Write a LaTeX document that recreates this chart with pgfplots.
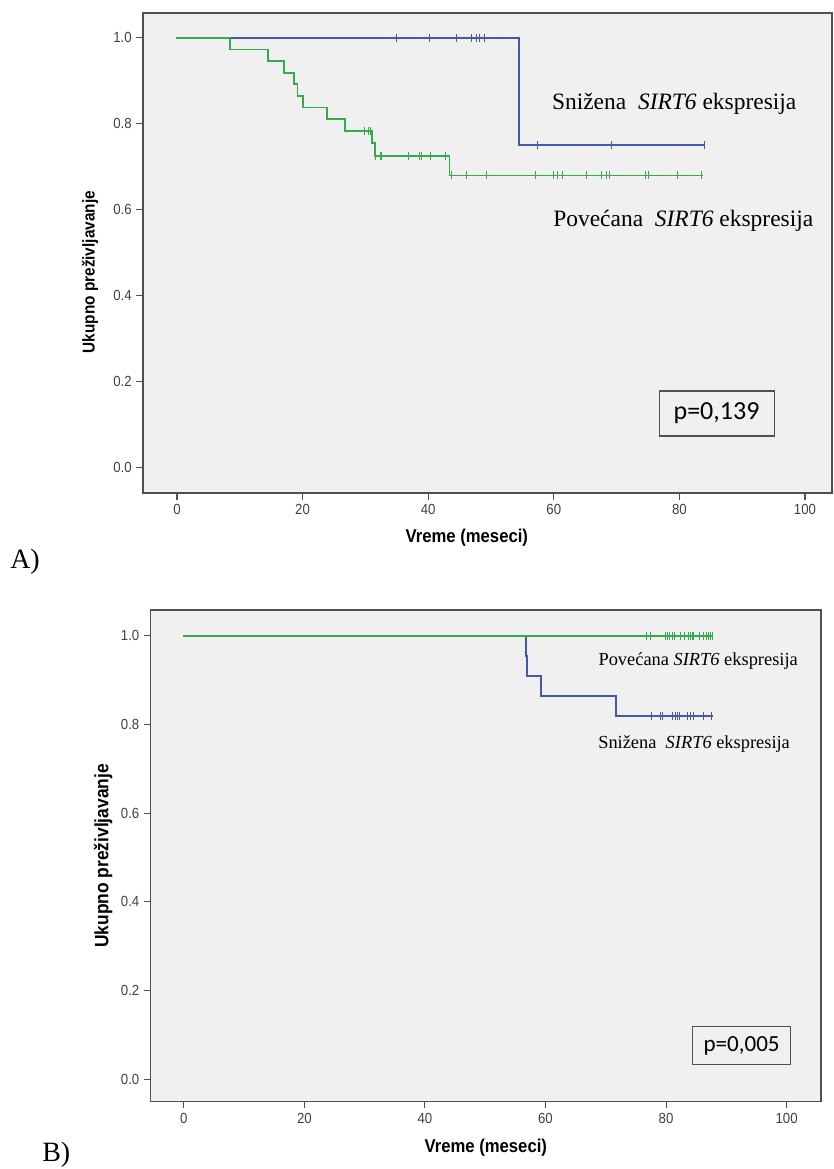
\documentclass[border=0pt]{standalone}
\usepackage{fontspec}
\setmainfont{Liberation Serif}
\newfontfamily\axfont[FakeStretch=0.9]{Liberation Sans}
\newfontfamily\pfont{Carlito}
\usepackage{pgfplots}
\pgfplotsset{compat=1.18}
\definecolor{kmblue}{RGB}{70,88,166}
\definecolor{kmgreen}{RGB}{52,172,78}
\definecolor{bgc}{RGB}{240,240,240}
\definecolor{axc}{RGB}{80,80,80}
\pgfplotsset{kmaxis/.style={
  scale only axis,
  axis background/.style={fill=bgc},
  axis line style={axc, line width=1.1pt},
  xtick pos=bottom, ytick pos=left, tick align=outside,
  major tick length=5pt, tick style={axc, line width=0.8pt},
  xtick={0,20,40,60,80,100},
  ytick={0,0.2,0.4,0.6,0.8,1},
  yticklabels={0.0,0.2,0.4,0.6,0.8,1.0},
  /pgf/number format/assume math mode=true,
  ticklabel style={font=\axfont\fontsize{11}{12}\selectfont, text=black!75},
  xlabel={Vreme (meseci)},
  ylabel={Ukupno preživljavanje},
  clip=false,
  km line/.style={line width=1.4pt, const plot, line cap=rect},
  km cens/.style={only marks, mark=|, mark size=3pt, mark options={line width=1.1pt}},
}}
\begin{document}
\begin{tikzpicture}
\useasboundingbox (0,0) rectangle (624.75pt,-876.75pt);
% ---------- Panel A ----------
\begin{axis}[kmaxis,
  at={(107.25pt,-9.75pt)}, anchor=north west,
  width=516.75pt, height=360pt,
  xmin=-5.41, xmax=104.3, ymin=-0.059, ymax=1.058,
  xlabel style={font=\axfont\bfseries\fontsize{13.9}{15}\selectfont, at={(axis description cs:0.47,-0.093)}, anchor=center},
  ylabel style={font=\axfont\bfseries\fontsize{12.8}{14}\selectfont, at={(axis description cs:-0.0769,0.46)}, anchor=center},
]
\addplot[kmblue, km line] coordinates {(0,1)(54.4,0.75)(83.9,0.75)};
\addplot[kmblue, km cens, mark options={kmblue}] coordinates {
(34.9,1)(40.2,1)(44.5,1)(46.9,1)(47.6,1)(48.2,1)(48.9,1)
(57.3,0.75)(69.2,0.75)(83.9,0.75)};
\addplot[kmgreen, km line] coordinates {
(0,1)(8.5,0.973)(14.5,0.946)(17.1,0.919)(18.6,0.892)(19.2,0.865)(20.0,0.838)
(23.9,0.811)(26.8,0.784)(31.0,0.755)(31.5,0.726)(43.4,0.680)(83.6,0.680)};
\addplot[kmgreen, km cens, mark options={kmgreen}] coordinates {
(29.9,0.784)(30.5,0.784)(30.8,0.784)
(31.6,0.726)(32.3,0.726)(32.6,0.726)(36.8,0.726)(38.6,0.726)(38.9,0.726)(40.4,0.726)(42.7,0.726)
(43.7,0.68)(46.1,0.68)(49.3,0.68)(57.0,0.68)(59.9,0.68)(60.6,0.68)(61.3,0.68)(65.2,0.68)
(67.6,0.68)(68.3,0.68)(68.9,0.68)(74.6,0.68)(75.0,0.68)(79.6,0.68)(83.5,0.68)};
\end{axis}
% ---------- Panel B ----------
\begin{axis}[kmaxis,
  at={(113.0pt,-457.5pt)}, anchor=north west,
  width=502.7pt, height=368.8pt,
  xmin=-5.5, xmax=105.7, ymin=-0.051, ymax=1.058,
  xlabel style={font=\axfont\bfseries\fontsize{13.9}{15}\selectfont, at={(axis description cs:0.5,-0.094)}, anchor=center},
  ylabel style={font=\axfont\bfseries\fontsize{14.5}{16}\selectfont, at={(axis description cs:-0.0707,0.5)}, anchor=center},
]
\addplot[kmblue, km line] coordinates {
(0,1)(56.7,0.955)(57.0,0.909)(59.3,0.864)(71.7,0.818)(87.6,0.818)};
\addplot[kmblue, km cens, mark options={kmblue}] coordinates {
(77.5,0.818)(79.0,0.818)(79.4,0.818)(81.0,0.818)(81.5,0.818)(81.9,0.818)(82.2,0.818)
(83.6,0.818)(84.0,0.818)(84.6,0.818)(86.2,0.818)(87.5,0.818)};
\addplot[kmgreen, km line] coordinates {(0,1)(87.6,1)};
\addplot[kmgreen, km cens, mark options={kmgreen}] coordinates {
(76.8,1)(77.4,1)(79.8,1)(80.2,1)(80.6,1)(81.0,1)(81.3,1)(82.4,1)(83.0,1)(83.7,1)
(84.0,1)(84.3,1)(84.6,1)(85.5,1)(86.1,1)(86.7,1)(87.0,1)(87.3,1)(87.6,1)};
\end{axis}
% ---------- annotations ----------
\node[anchor=base west, inner sep=0pt, font=\fontsize{17.6}{20}\selectfont] at (413.8pt,-82pt) {Snižena\ \ \textit{SIRT6} ekspresija};
\node[anchor=base west, inner sep=0pt, font=\fontsize{17.6}{20}\selectfont] at (414.75pt,-170pt) {Povećana\ \ \textit{SIRT6} ekspresija};
\node[anchor=base west, inner sep=0pt, font=\fontsize{13.8}{16}\selectfont] at (448.7pt,-498.75pt) {Povećana \textit{SIRT6} ekspresija};
\node[anchor=base west, inner sep=0pt, font=\fontsize{13.8}{16}\selectfont] at (448.5pt,-561pt) {Snižena\ \ \textit{SIRT6} ekspresija};
\node[draw=axc, line width=0.8pt, fill=bgc, minimum width=86.25pt, minimum height=33.75pt, inner sep=0pt, font=\pfont\fontsize{19.5}{22}\selectfont] at (537.4pt,-310.1pt) {p=0,139};
\node[draw=axc, line width=0.8pt, fill=bgc, minimum width=74pt, minimum height=28.2pt, inner sep=0pt, font=\pfont\fontsize{17.3}{20}\selectfont] at (556.2pt,-784.1pt) {p=0,005};
\node[anchor=base west, inner sep=0pt, font=\fontsize{21}{24}\selectfont] at (7.5pt,-426pt) {A)};
\node[anchor=base west, inner sep=0pt, font=\fontsize{21}{24}\selectfont] at (31.5pt,-870.75pt) {B)};
\end{tikzpicture}
\end{document}
